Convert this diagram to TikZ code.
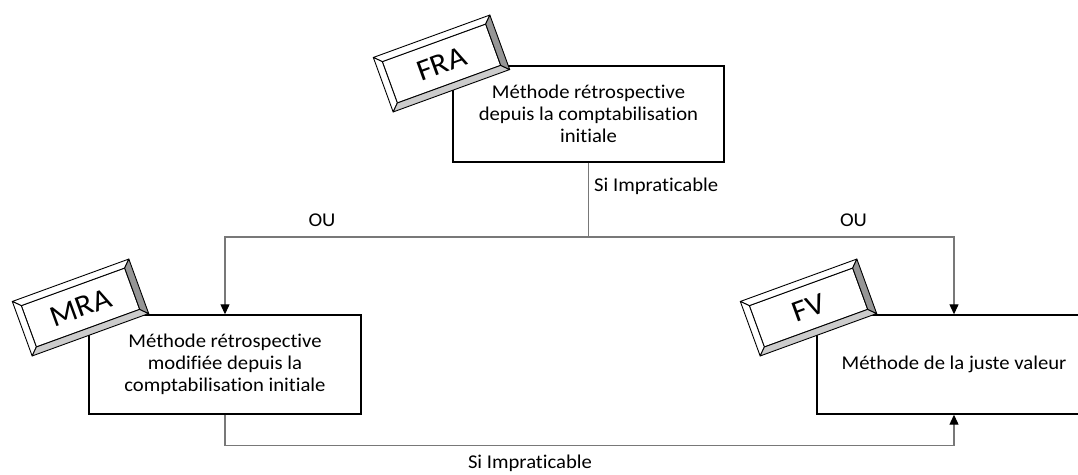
\documentclass[tikz,border=0pt]{standalone}
\usepackage{fontspec}
\setmainfont{Carlito}[FakeStretch=1.06, RawFeature={-liga;-clig;-calt}]
\usetikzlibrary{arrows.meta}

\definecolor{connc}{RGB}{120,120,120}
\definecolor{bevlo}{RGB}{204,204,204}
\definecolor{bevrt}{RGB}{150,150,150}

% Bevelled tag tilted by 20 degrees: #1 name, #2 centre, #3 label
\newcommand\bevtag[3]{%
  \begin{scope}[shift={(#2)}, rotate=20, line width=0.9pt, line join=round]
    \filldraw[fill=white] (-55,-22) rectangle (55,22);
    \filldraw[fill=white] (-62,-29) -- (62,-29) -- (55,-22) -- (-55,-22) -- cycle;
    \filldraw[fill=white] (-62,-29) -- (-62,29) -- (-55,22) -- (-55,-22) -- cycle;
    \filldraw[fill=bevlo] (-62,29) -- (62,29) -- (55,22) -- (-55,22) -- cycle;
    \filldraw[fill=bevrt] (62,-29) -- (62,29) -- (55,22) -- (55,-22) -- cycle;
  \end{scope}
  \node[tagtxt] (#1) at (#2) {#3};
}

\begin{document}
\begin{tikzpicture}[x=1pt,y=-1pt,
  box/.style={draw=black, line width=1.4pt, fill=white, inner sep=0pt},
  txt/.style={align=center, font=\fontsize{19.5}{22}\selectfont, inner sep=0pt},
  conn/.style={draw=connc, line width=1.2pt},
  arr/.style={conn, -{Triangle[length=10pt,width=9pt,color=black]}},
  lbl/.style={font=\fontsize{19.5}{22}\selectfont, inner sep=0pt},
  tagtxt/.style={font=\fontsize{30}{32}\selectfont, rotate=20, inner sep=0pt}
]
\useasboundingbox (0,0) rectangle (1078,474);
\clip (0,0) rectangle (1078,474);

% process boxes
\node[box, minimum width=271pt, minimum height=96pt] (fra) at (588.5,114) {};
\node[box, minimum width=272pt, minimum height=99pt] (mra) at (225,364.5) {};
\node[box, minimum width=274pt, minimum height=99pt] (fv) at (954,364.5) {};

\node[txt] (fratxt) at (fra) {Méthode rétrospective\\depuis la comptabilisation\\initiale};
\node[txt] (mratxt) at (mra) {Méthode rétrospective\\modifiée depuis la\\comptabilisation initiale};
\node[txt] (fvtxt) at (fv) {Méthode de la juste valeur};

% connectors
\coordinate (split) at (588.5,237);
\draw[conn] (fra.south) -- (split);
\draw[arr] (split) -| (mra.north);
\draw[arr] (split) -| (fv.north);
\draw[arr] (mra.south) -- ++(0,31) -| (fv.south);

% connector labels
\node[lbl, anchor=west] (l1) at (594,186) {Si Impraticable};
\node[lbl] (ou1) at (322,220) {OU};
\node[lbl] (ou2) at (853.5,220) {OU};
\node[lbl] (l2) at (530,463) {Si Impraticable};

% tags
\bevtag{tfra}{441.5,63.5}{FRA}
\bevtag{tmra}{80.5,307.5}{MRA}
\bevtag{tfv}{808.5,307.5}{FV}
\end{tikzpicture}
\end{document}
